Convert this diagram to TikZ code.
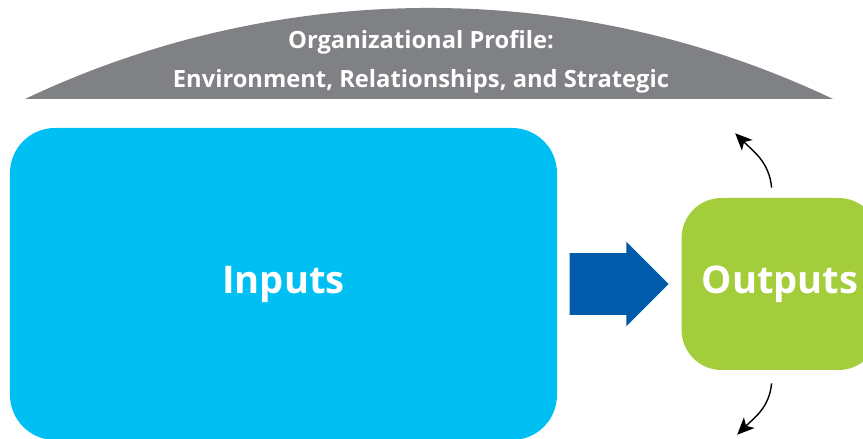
\documentclass[tikz,border=0pt]{standalone}
\usepackage{fontspec}
\setmainfont{Open Sans}
\usepackage{tikz}
\usetikzlibrary{arrows,arrows.meta}
\usetikzlibrary{positioning,shapes.arrows}

\definecolor{domegray}{HTML}{808184}
\definecolor{inputcyan}{HTML}{00C0F3}
\definecolor{flowblue}{HTML}{005BAA}
\definecolor{outputgreen}{HTML}{A3CD3B}

\begin{document}
\begin{tikzpicture}[-,auto,node distance=0.24cm,
			box node/.style={rectangle,inner sep=0pt,text=white,
				font=\fontsize{21.7}{26}\selectfont\bfseries},
			input box/.style={box node,fill=inputcyan,rounded corners=0.9cm,
				minimum width=10.94cm,minimum height=6.24cm},
			output box/.style={box node,fill=outputgreen,rounded corners=0.8cm,
				minimum width=3.94cm,minimum height=3.44cm},
			flow arrow/.style={single arrow,fill=flowblue,inner xsep=0pt,inner ysep=0.61cm,
				minimum height=1.98cm,minimum width=1.68cm,
				single arrow head extend=0.23cm,single arrow tip angle=90},
			bend arrow/.style={-{Stealth[length=3.4mm,width=3mm,inset=0.9mm]},thick,shorten >=0.5pt}]
			
			\useasboundingbox (0,0) rectangle (17.26,8.78);
			\clip (0,0) rectangle (17.26,8.78);
			
			% profile dome
			\fill[domegray] (0.5,6.8) arc[start angle=115.4,end angle=64.6,radius=18.84] -- cycle;
			\node[text=white,align=center,font=\fontsize{13.5}{22}\selectfont\bfseries]
				(profile) at (8.42,7.55) {Organizational Profile:\\Environment, Relationships, and Strategic};
			
			\node[input box] (inputs) at (5.67,3.1) {Inputs};
			\node[flow arrow] (flow) [right=of inputs] {};
			\node[output box] (outputs) [right=of flow] {Outputs};
			
			\coordinate (top out) at ([xshift=-0.17cm,yshift=0.2cm]outputs.north);
			\coordinate (top end) at ([xshift=-0.74cm,yshift=1.1cm]top out);
			\coordinate (bottom out) at ([xshift=-0.17cm,yshift=-0.26cm]outputs.south);
			\coordinate (bottom end) at ([xshift=-0.7cm,yshift=-1.04cm]bottom out);
			\path
			(top out) edge[bend arrow,out=95,in=-45] (top end)
			(bottom out) edge[bend arrow,out=-95,in=45] (bottom end);
		\end{tikzpicture}
\end{document}
